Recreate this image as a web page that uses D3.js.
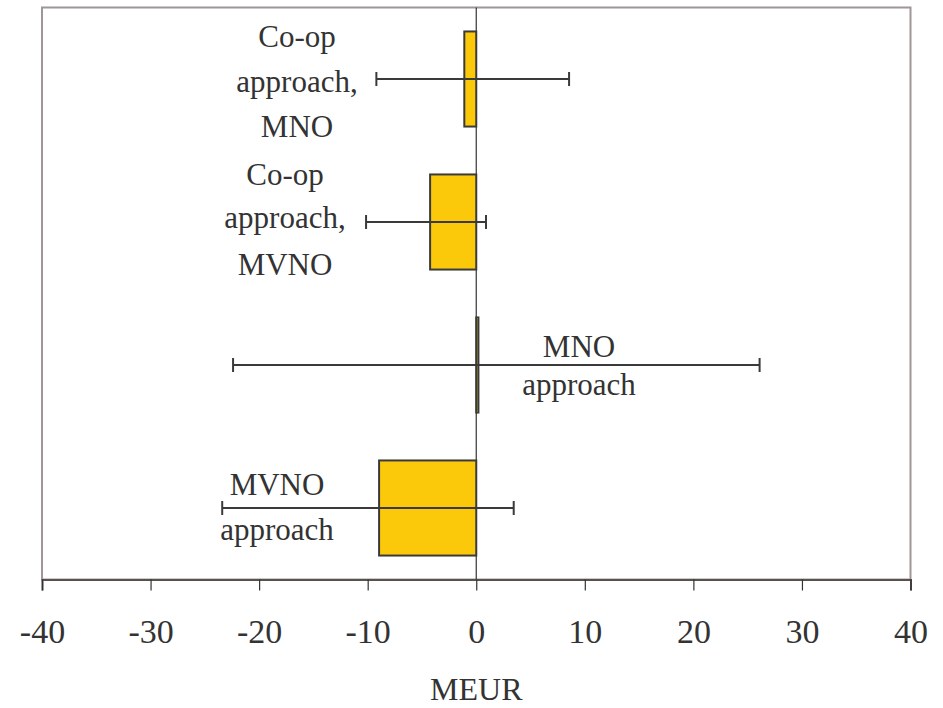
<!DOCTYPE html>
<html>
<head>
<meta charset="utf-8">
<script src="https://cdn.jsdelivr.net/npm/d3@7"></script>
<style>
  html, body { margin: 0; padding: 0; background: #fff; }
  svg { display: block; }
</style>
</head>
<body>
<svg id="chart" width="943" height="708"></svg>
<script>
// ---- data ----
const categories = ["Co-op approach, MNO", "Co-op approach, MVNO", "MNO approach", "MVNO approach"];
const categoryLines = [["Co-op", "approach,", "MNO"], ["Co-op", "approach,", "MVNO"], ["MNO", "approach"], ["MVNO", "approach"]];
const values = [-1.1, -4.25, 0.2, -8.95];
const errLow = [-9.2, -10.15, -22.4, -23.4];
const errHigh = [8.55, 0.9, 26.1, 3.45];
const xTicks = [-40, -30, -20, -10, 0, 10, 20, 30, 40];
const xTitle = "MEUR";

// ---- layout ----
const plot = { left: 42, right: 910.5, top: 7.5, bottom: 579.5 };
const FONT = "'Liberation Serif', 'DejaVu Serif', serif";
const TEXT = "#333333";
// label placement (pixels): center x and baselines relative to band center
const labelLayout = [
  { x: 297, dy: [-32, 13, 58] },
  { x: 285, dy: [-37, 6, 53] },
  { x: 579, dy: [-8, 30] },
  { x: 277, dy: [-13, 32] }
];

const svg = d3.select("#chart");
const x = d3.scaleLinear().domain([-40, 40]).range([plot.left, plot.right]);
const y = d3.scaleBand().domain(categories).range([plot.top, plot.bottom])
  .paddingInner(0.335).paddingOuter(0.1675);

// plot frame
svg.append("rect")
  .attr("x", plot.left).attr("y", plot.top)
  .attr("width", plot.right - plot.left).attr("height", plot.bottom - plot.top)
  .attr("fill", "#fff").attr("stroke", "#a09696").attr("stroke-width", 2);

// zero line
svg.append("line")
  .attr("x1", x(0)).attr("x2", x(0))
  .attr("y1", plot.top).attr("y2", plot.bottom)
  .attr("stroke", "#333").attr("stroke-width", 1.2);

const rows = categories.map((c, i) => ({ c, i, v: values[i], lo: errLow[i], hi: errHigh[i] }));

// bars
svg.append("g").selectAll("rect").data(rows).join("rect")
  .attr("x", d => Math.min(x(0), x(d.v)))
  .attr("y", d => y(d.c))
  .attr("width", d => Math.abs(x(d.v) - x(0)))
  .attr("height", y.bandwidth())
  .attr("fill", "#fcc90a")
  .attr("stroke", "#3a3a3a").attr("stroke-width", 2);

// error bars
const eg = svg.append("g").attr("stroke", "#3a3a3a").attr("stroke-width", 2);
rows.forEach(d => {
  const cy = y(d.c) + y.bandwidth() / 2;
  eg.append("line").attr("x1", x(d.lo)).attr("x2", x(d.hi)).attr("y1", cy).attr("y2", cy);
  eg.append("line").attr("x1", x(d.lo)).attr("x2", x(d.lo)).attr("y1", cy - 7).attr("y2", cy + 7);
  eg.append("line").attr("x1", x(d.hi)).attr("x2", x(d.hi)).attr("y1", cy - 7).attr("y2", cy + 7);
});

// category labels
rows.forEach(d => {
  const cy = y(d.c) + y.bandwidth() / 2;
  const L = labelLayout[d.i];
  categoryLines[d.i].forEach((t, k) => {
    svg.append("text")
      .attr("x", L.x).attr("y", cy + L.dy[k])
      .attr("text-anchor", "middle")
      .attr("font-family", FONT)
      .attr("font-size", 31)
      .attr("fill", TEXT)
      .text(t);
  });
});

// x axis
const xAxis = d3.axisBottom(x).tickValues(xTicks).tickSize(11).tickPadding(20).tickFormat(d3.format("d"));
const ax = svg.append("g").attr("transform", `translate(0,${plot.bottom})`).call(xAxis)
  .attr("font-family", FONT).attr("font-size", 34);
ax.select(".domain").attr("stroke", "#5a5050").attr("stroke-width", 2);
ax.selectAll(".tick line").attr("stroke", "#333").attr("stroke-width", 1.2);
ax.selectAll(".tick text")
  .attr("y", 63).attr("dy", 0)
  .attr("fill", TEXT)
  .text(d => d < 0 ? "-" + Math.abs(d) : String(d));

// x title
svg.append("text")
  .attr("x", x(0)).attr("y", 700)
  .attr("text-anchor", "middle")
  .attr("font-family", FONT)
  .attr("font-size", 32)
  .attr("fill", TEXT)
  .text(xTitle);
</script>
</body>
</html>
